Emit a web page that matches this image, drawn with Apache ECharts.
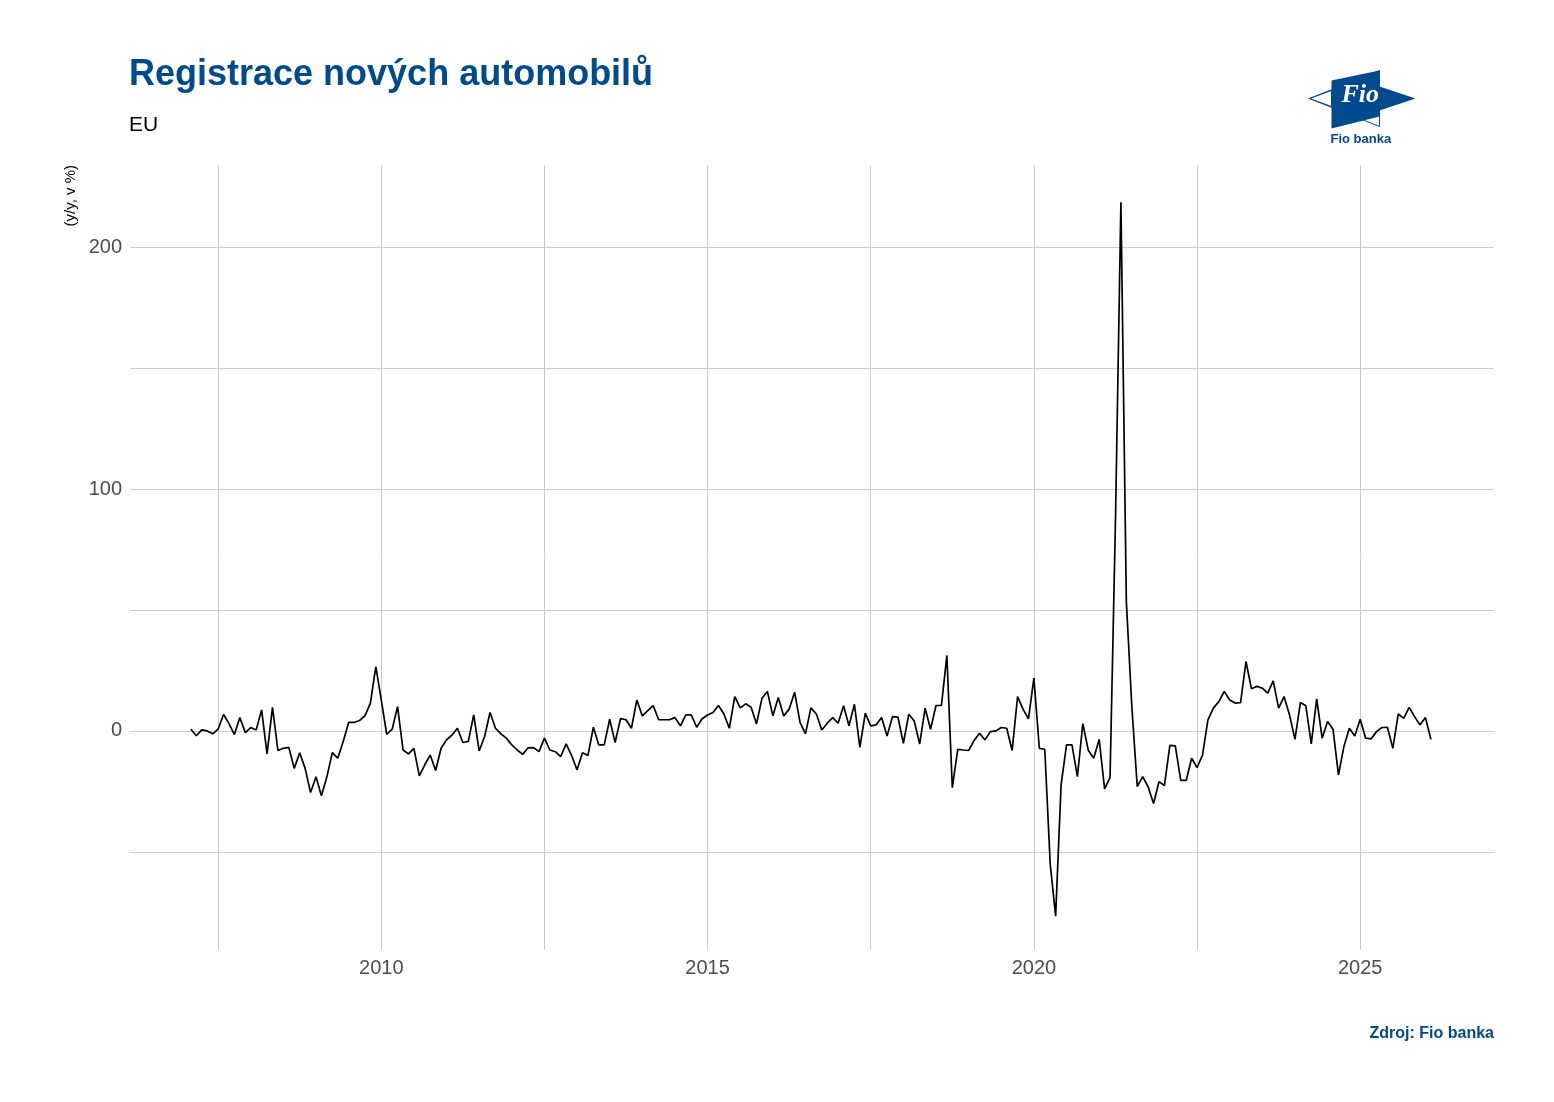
<!DOCTYPE html>
<html>
<head>
<meta charset="utf-8">
<script src="https://cdn.jsdelivr.net/npm/echarts@6/dist/echarts.min.js"></script>
<style>
  html, body { margin: 0; padding: 0; background: #fff; }
  #chart { width: 1554px; height: 1102px; }
</style>
</head>
<body>
<div id="chart"></div>
<script>
// Registrace novych automobilu EU, mesicne y/y v %, od 2007-01
const START_YEAR = 2007;
const values = [
  0.7, -2, 0.4, 0, -1.2, 0.7, 6.8, 3, -1.5, 5.5, -0.7, 1.4,
  0.4, 8.7, -9.5, 9.7, -8.1, -7.2, -6.8, -15.5, -9, -15.5, -25.5, -19,
  -26.8, -19, -9, -11.3, -4.4, 3.5, 3.5, 4.3, 6.2, 11.5, 26.6, 12.8,
  -1.4, 0.7, 10, -7.9, -9.5, -7.2, -18.6, -14, -10, -16.4, -7.2, -3.7,
  -1.7, 1.1, -4.8, -4.4, 6.6, -8.3, -2.3, 7.6, 1.1, -1.2, -3, -5.8,
  -7.9, -9.7, -7, -6.9, -8.6, -3, -7.9, -8.6, -10.6, -5.4, -10.2, -16.1,
  -9, -10.2, 1.5, -5.8, -5.8, 4.8, -4.8, 5.1, 4.6, 1.1, 12.8, 6.2,
  8.4, 10.5, 4.6, 4.6, 4.6, 5.5, 2.1, 6.6, 6.6, 1.5, 5, 6.6,
  7.6, 10.5, 7, 1.1, 14.2, 9.5, 11.2, 9.8, 2.9, 13.5, 16.3, 6.2,
  13.8, 6.2, 9, 16, 3.5, -1.2, 9.5, 7, 0.4, 3.2,
  5.5, 3.2, 10.4, 2.1, 11, -6.8, 7.3, 2.1, 2.5, 5.5, -2.1, 5.9,
  5.7, -5.1, 6.9, 4.1, -5.4, 9.4, 0.7, 10.5, 10.5, 31.2, -23.5, -7.6,
  -7.9, -8.1, -4, -1, -3.7, -0.3, 0, 1.4, 1.1, -8.1, 14.2, 9,
  5, 21.8, -7.2, -7.6, -55, -76.6, -22.3, -5.8, -5.8, -18.9, 3, -8,
  -11.3, -3.5, -24, -19.3, 87, 218.6, 53.4, 10.4, -23, -18.9, -23.1,
  -30, -21, -22.6, -6, -6.2, -20.5, -20.5, -11.3, -15.2, -10,
  4.6, 9.4, 12.1, 16.3, 12.8, 11.5, 11.7, 28.7, 17.4, 18.4, 17.7, 15.6,
  20.7, 9.4, 14.2, 6.6, -3.5, 11.7, 10.4, -5.4, 13.2, -3, 3.9, 0.7,
  -18.2, -6.5, 1.1, -2.1, 4.8, -3, -3.3, -0.3, 1.4, 1.5, -7.2, 7,
  5.2, 9.7, 5.9, 2.5, 5.5, -3.5
];
const xTicks = [2010, 2015, 2020, 2025];
const xGrid = [2007.5, 2010, 2012.5, 2015, 2017.5, 2020, 2022.5, 2025];
const yTicks = [0, 100, 200];
const yGrid = [-50, 0, 50, 100, 150, 200];

const BLUE = '#004a8f';
const FONT = '"Liberation Sans", Arial, sans-serif';

// bod na konci mesice
const points = values.map((v, i) => [START_YEAR + (i + 1) / 12, v]);

const gridLines = [
  ...xGrid.map(x => ({ xAxis: x })),
  ...yGrid.map(y => ({ yAxis: y }))
];

const chart = echarts.init(document.getElementById('chart'));
chart.setOption({
  animation: false,
  backgroundColor: '#fff',
  textStyle: { fontFamily: FONT },
  title: [
    { text: 'Registrace nových automobilů', left: 124, top: 52,
      textStyle: { color: BLUE, fontSize: 36, fontWeight: 'bold', fontFamily: FONT } },
    { text: 'EU', left: 124, top: 110,
      textStyle: { color: '#000', fontSize: 21, fontWeight: 'normal', fontFamily: FONT } },
    { text: 'Zdroj: Fio banka', right: 55, top: 1021,
      textStyle: { color: BLUE, fontSize: 16, fontWeight: 'bold', fontFamily: FONT } }
  ],
  grid: { left: 130, right: 60, top: 165, bottom: 152 },
  xAxis: {
    type: 'value', min: 2006.15, max: 2027.05,
    axisLine: { show: false }, axisTick: { show: false }, splitLine: { show: false },
    axisLabel: { customValues: xTicks, formatter: v => String(v), color: '#4d4d4d', fontSize: 20, margin: 8 }
  },
  yAxis: {
    type: 'value', min: -90.6, max: 234,
    name: '(y/y, v %)', nameLocation: 'end', nameRotate: 90, nameGap: 0,
    nameTextStyle: { color: '#000', fontSize: 15, align: 'right', verticalAlign: 'bottom', padding: [0, 0, 52, 0] },
    axisLine: { show: false }, axisTick: { show: false }, splitLine: { show: false },
    axisLabel: { customValues: yTicks, formatter: v => String(v), color: '#4d4d4d', fontSize: 20, margin: 8 }
  },
  series: [
    {
      type: 'line', data: points, symbol: 'none', silent: true, z: 1,
      lineStyle: { opacity: 0 },
      markLine: {
        silent: true, symbol: 'none', label: { show: false },
        lineStyle: { color: '#cccccc', width: 1, type: 'solid' },
        data: gridLines
      }
    },
    {
      type: 'line', data: points, symbol: 'none', z: 5,
      lineStyle: { color: '#000', width: 1.7 }
    }
  ],
  graphic: [
    { type: 'group', left: 1307, top: 68, children: [
      { type: 'polygon', shape: { points: [[0, 28], [22, 20], [22, 36]] },
        style: { fill: 'none', stroke: BLUE, lineWidth: 1 } },
      { type: 'polygon', shape: { points: [[0, 28], [70, 0], [70, 56]] },
        style: { fill: 'none', stroke: BLUE, lineWidth: 1 } },
      { type: 'polygon', shape: { points: [[22, 10], [70, 0], [70, 46], [22, 58]] },
        style: { fill: BLUE } },
      { type: 'polygon', shape: { points: [[70, 16], [106, 28], [70, 40]] },
        style: { fill: BLUE } },
      { type: 'text', left: 32, top: 12,
        style: { text: 'Fio', fill: '#fff', fontSize: 26, fontStyle: 'italic', fontWeight: 'bold', fontFamily: '"Liberation Serif", serif' } },
      { type: 'text', left: 21, top: 62,
        style: { text: 'Fio banka', fill: BLUE, fontSize: 13, fontWeight: 'bold', fontFamily: FONT } }
    ]}
  ]
});
</script>
</body>
</html>
